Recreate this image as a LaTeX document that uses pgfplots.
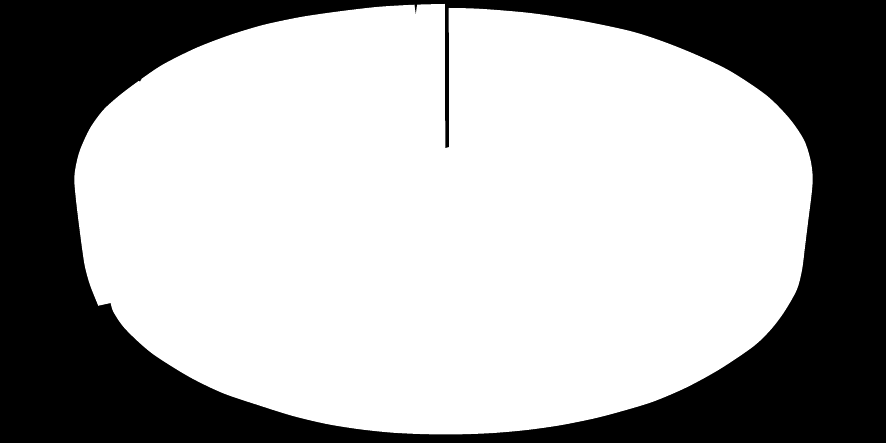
\documentclass[border=0pt]{standalone}
\usepackage{pgfplots}
\pgfplotsset{compat=1.18}
\begin{document}
\begin{tikzpicture}
\begin{axis}[
  scale only axis, width=886pt, height=443pt,
  xmin=0, xmax=886, ymin=0, ymax=443, y dir=reverse,
  ticks=none, axis line style={draw=none},
  axis background/.style={fill=black},
  clip=true]
% right and bottom outline
\addplot[fill=white, draw=none, smooth] coordinates {
(448.7,8)(480,8.8)(530,13)(580,20.5)(630,31)(663,41.5)(696.7,55)(730,71)(766,95)(789,118)(804,140)(810.5,160)(812.7,177)(811.7,193)(808.3,220)(805,246.7)(802,270)(796.7,290)(783.5,313)(770,330.5)(753,346.7)(720,369)(686.7,387.3)(653,401.7)(620,411.7)(593,418.7)(560,425.3)(526.7,430)(493,433)(460,434.3)(426.7,434.2)(393,432.7)(360,429.3)(326.7,424)(293,416)(260,405.7)(223.3,393.3)(190,377.3)(156.7,356.7)(140,343.3)(123.3,326.7)(113.3,311.7)(110.7,303)
};
% left and top outline
\addplot[fill=white, draw=none, smooth] coordinates {
(98.3,305.7)(90,285)(85,267)(82.3,250)(79,225)(76,200)(74.3,180)(75.7,166.7)(80,150)(90,128.3)(103.3,110)(120,95)(140,80)(163.3,64.3)(196.7,47.7)(230,35)(263,25)(297,17.7)(320,14)(350,10)(380,6.7)(415,4.7)(445,4)
};
% interior
\addplot[fill=white, draw=none] coordinates {
(98.3,305.7)(110.7,303)(130,305)(447,60)(447,5)(445,4)(400,9)(90,270)
} -- cycle;
% gap between the two large slices
\addplot[fill=black, draw=none] coordinates {
(445,0)(448.7,0)(448.9,147)(445.3,148)
} -- cycle;
% small slice edge at the top
\addplot[fill=black, draw=none] coordinates {
(414.3,3)(417.2,3)(415.8,14)
} -- cycle;
% small slice edge at the upper left
\addplot[fill=black, draw=none] coordinates {
(137.5,80)(141.5,79)(140,81.5)
} -- cycle;
\end{axis}
\end{tikzpicture}
\end{document}
